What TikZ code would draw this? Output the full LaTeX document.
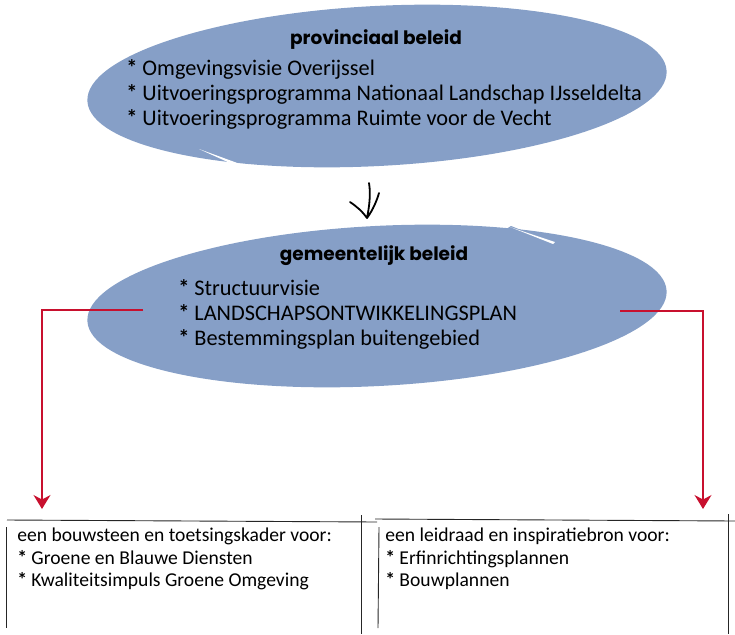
\documentclass[tikz,border=0pt]{standalone}
\usepackage{fontspec}
\setmainfont{Carlito}
\newfontfamily\handfont{Poppins}
\usepackage{tikz}
\usetikzlibrary{arrows,arrows.meta,positioning}
\definecolor{bubble}{RGB}{134,159,199}
\definecolor{linkred}{RGB}{200,16,46}
\newcommand{\bul}{\textbf{*}}

\begin{document}
\begin{tikzpicture}[x=1pt,y=-1pt,>={Stealth[length=14pt,width=17pt]},semithick]
  \tikzstyle{title}=[font=\handfont\bfseries\fontsize{18.5}{22}\selectfont,anchor=base,inner sep=0pt]
  \tikzstyle{item}=[font=\fontsize{22.3}{26}\selectfont,anchor=base west,inner sep=0pt]
  \tikzstyle{note}=[font=\fontsize{19.6}{23}\selectfont,anchor=base west,inner sep=0pt]
  \tikzstyle{red link}=[->,draw=linkred,line width=1.6pt]
  \tikzstyle{frame}=[draw=black!85,line width=0.9pt]

  \useasboundingbox (0,0) rectangle (735,634);

  % the two bubbles
  \fill[bubble,rotate around={3:(377,86)}] (377,86) ellipse [x radius=290pt,y radius=80pt];
  \fill[white] (199,149) -- (251,168) -- (241,168) -- cycle;
  \fill[bubble] (495,236) -- (511,226) -- (572,250) -- cycle;
  \fill[bubble,rotate around={3:(377,306)}] (377,306) ellipse [x radius=290pt,y radius=80pt];
  \fill[white] (510,227) -- (555,242) -- (553,244) -- cycle;

  \node[title] (prov)  at (376,45)  {provinciaal beleid};
  \node[item]  (prov1) at (126,75)  {\bul{} Omgevingsvisie Overijssel};
  \node[item]  (prov2) at (126,100) {\bul{} Uitvoeringsprogramma Nationaal Landschap IJsseldelta};
  \node[item]  (prov3) at (126,125) {\bul{} Uitvoeringsprogramma Ruimte voor de Vecht};

  \node[title] (gem)  at (374,260) {gemeentelijk beleid};
  \node[item]  (gem1) at (178,295) {\bul{} Structuurvisie};
  \node[item]  (gem2) at (178,320) {\bul{} LANDSCHAPSONTWIKKELINGSPLAN};
  \node[item]  (gem3) at (178,345) {\bul{} Bestemmingsplan buitengebied};

  % hand drawn arrow between the bubbles
  \coordinate (handtop) at (369,183);
  \coordinate (handtip) at (367,218);
  \draw[line width=1.8pt,line cap=round,line join=round]
        (handtop) .. controls (371,195) and (369,208) .. (handtip)
        (350,202) .. controls (356,206) and (362,211) .. (handtip)
        .. controls (373,210) and (377,200) .. (379,193);

  % boxes at the bottom
  \draw[frame] (7,520) -- (377,522);
  \draw[frame] (6,527) -- (6,628);
  \draw[frame] (361,515) -- (361,634);
  \draw[frame] (375,519) -- (735,521);
  \draw[frame] (379,527) -- (378,628);
  \draw[frame] (728,514) -- (728,634);

  \node[note] (bouw)  at (17,541) {een bouwsteen en toetsingskader voor:};
  \node[note] (bouw1) at (17,564) {\bul{} Groene en Blauwe Diensten};
  \node[note] (bouw2) at (17,586) {\bul{} Kwaliteitsimpuls Groene Omgeving};
  \node[note] (leid)  at (385,541) {een leidraad en inspiratiebron voor:};
  \node[note] (leid1) at (385,564) {\bul{} Erfinrichtingsplannen};
  \node[note] (leid2) at (385,586) {\bul{} Bouwplannen};

  % red links
  \coordinate (gemL) at (143,310);
  \coordinate (gemR) at (620,311);
  \coordinate (bouwtop) at (42,509);
  \coordinate (leidtop) at (703,509);
  \draw[red link] (gemL) -| (bouwtop);
  \draw[red link,line width=1.2pt] (gemR) -| (leidtop);
\end{tikzpicture}
\end{document}
